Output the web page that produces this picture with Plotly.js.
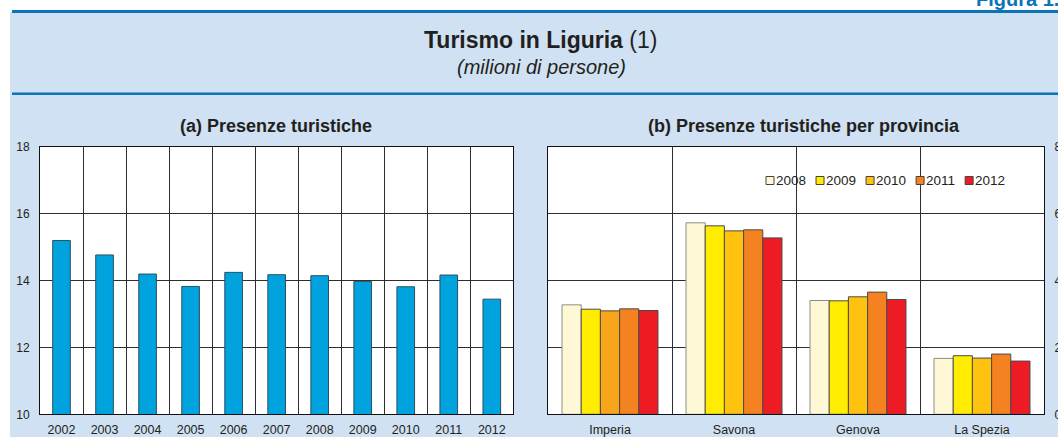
<!DOCTYPE html>
<html>
<head>
<meta charset="utf-8">
<script src="https://cdn.plot.ly/plotly-3.0.1.min.js"></script>
<style>html,body{margin:0;padding:0;background:#fff;}#chart{width:1058px;height:437px;}</style>
</head>
<body>
<div id="chart"></div>
<script>
// ---- data ----
const years = ['2002','2003','2004','2005','2006','2007','2008','2009','2010','2011','2012'];
const presenze = [15.19, 14.76, 14.19, 13.82, 14.24, 14.17, 14.14, 13.97, 13.81, 14.16, 13.44];

const province = ['Imperia','Savona','Genova','La Spezia'];
const seriesNames = ['2008','2009','2010','2011','2012'];
const v2008 = [3.27, 5.72, 3.40, 1.67];
const v2009 = [3.14, 5.63, 3.39, 1.75];
const v2010 = [3.09, 5.48, 3.51, 1.68];
const v2011 = [3.15, 5.51, 3.65, 1.80];
const v2012 = [3.10, 5.27, 3.43, 1.59];
const seriesValues = [v2008, v2009, v2010, v2011, v2012];

const leftTicks = [10, 12, 14, 16, 18];
const rightTicks = [0, 2, 4, 6, 8];

// ---- styles ----
const W = 1058, H = 437;
const FONT = 'Liberation Sans, Arial, sans-serif';
const TXT = '#231f20';
const PANEL = '#cfe1f2';
const BLUE = '#0a74b6';
const GRID = '#2e2e2e';
const seriesColors = ['#fff8d6', '#ffec00', '#ffc20e', '#f58220', '#ed1c24'];
const seriesPointColors = [null, null, ['#f9a51b','#ffc20e','#ffc20e','#ffc20e'], null, null];
const seriesLine = ['#8c8c84', '#4a4a4a', '#4a4a4a', '#4a4a4a', '#4a4a4a'];

const px = x => x / W;
const py = y => 1 - y / H;

const plotTop = 146.5, plotBottom = 414.3;

const traces = [{
  type: 'bar', x: years, y: presenze, xaxis: 'x', yaxis: 'y',
  width: 0.41, showlegend: false, hoverinfo: 'x+y',
  marker: {color: '#00a3dd', line: {color: '#2b4f63', width: 1}}
}];
seriesNames.forEach((n, i) => {
  traces.push({
    type: 'bar', name: n, x: province, y: seriesValues[i], xaxis: 'x2', yaxis: 'y2',
    showlegend: false,
    marker: {color: seriesPointColors[i] || seriesColors[i], line: {color: seriesLine[i], width: 1}}
  });
});

const axisCommon = {
  showline: true, linecolor: '#111', linewidth: 1, mirror: true,
  showgrid: true, gridcolor: GRID, gridwidth: 1, zeroline: false,
  ticks: '', fixedrange: true
};

const shapes = [
  {type: 'rect', xref: 'paper', yref: 'paper', x0: px(10), x1: px(1070), y0: py(94), y1: py(12), fillcolor: PANEL, line: {width: 0}, layer: 'below'},
  {type: 'rect', xref: 'paper', yref: 'paper', x0: px(10), x1: px(1070), y0: py(440), y1: py(94), fillcolor: PANEL, line: {width: 0}, layer: 'below'},
  {type: 'rect', xref: 'paper', yref: 'paper', x0: px(40), x1: px(513.3), y0: py(plotBottom), y1: py(plotTop), fillcolor: '#fff', line: {width: 0}, layer: 'below'},
  {type: 'rect', xref: 'paper', yref: 'paper', x0: px(548), x1: px(1044), y0: py(plotBottom), y1: py(plotTop), fillcolor: '#fff', line: {width: 0}, layer: 'below'},
  {type: 'line', xref: 'paper', yref: 'paper', x0: px(12), x1: px(1070), y0: py(11.5), y1: py(11.5), line: {color: BLUE, width: 3}},
  {type: 'line', xref: 'paper', yref: 'paper', x0: px(12), x1: px(1070), y0: py(93.8), y1: py(93.8), line: {color: BLUE, width: 2.5}}
];

const annotations = [
  {xref: 'paper', yref: 'paper', x: px(1061), y: py(12), xanchor: 'right', yanchor: 'bottom', showarrow: false,
   text: '<b>Figura 1.</b>', font: {family: FONT, size: 20, color: BLUE}},
  {xref: 'paper', yref: 'paper', x: px(540.5), y: py(40.5), xanchor: 'center', yanchor: 'middle', showarrow: false,
   text: '<b>Turismo in Liguria</b> (1)', font: {family: FONT, size: 23, color: TXT}},
  {xref: 'paper', yref: 'paper', x: px(541), y: py(66.5), xanchor: 'center', yanchor: 'middle', showarrow: false,
   text: '<i>(milioni di persone)</i>', font: {family: FONT, size: 20, color: TXT}},
  {xref: 'paper', yref: 'paper', x: px(276), y: py(126), xanchor: 'center', yanchor: 'middle', showarrow: false,
   text: '<b>(a) Presenze turistiche</b>', font: {family: FONT, size: 18, color: TXT}},
  {xref: 'paper', yref: 'paper', x: px(804), y: py(126), xanchor: 'center', yanchor: 'middle', showarrow: false,
   text: '<b>(b) Presenze turistiche per provincia</b>', font: {family: FONT, size: 18, color: TXT}}
];

// custom compact legend, built from the series names and colours
const LEG_FONT = 13.5;
const ctx = document.createElement('canvas').getContext('2d');
ctx.font = LEG_FONT + 'px "Liberation Sans", Arial, sans-serif';
let lx = 766;
const ly = 180.5;
seriesNames.forEach((n, i) => {
  shapes.push({type: 'rect', xref: 'paper', yref: 'paper', layer: 'above',
    x0: px(lx), x1: px(lx + 8), y0: py(ly + 4), y1: py(ly - 4),
    fillcolor: seriesColors[i], line: {color: '#444', width: 1}});
  annotations.push({xref: 'paper', yref: 'paper', x: px(lx + 8.5), y: py(ly), xanchor: 'left', yanchor: 'middle',
    showarrow: false, borderpad: 0, text: n, font: {family: FONT, size: LEG_FONT, color: TXT}});
  lx += 8.5 + ctx.measureText(n).width + 11.5;
});

const layout = {
  width: W, height: H,
  margin: {l: 0, r: 0, t: 0, b: 0, pad: 0},
  paper_bgcolor: '#ffffff', plot_bgcolor: '#ffffff',
  font: {family: FONT, color: TXT, size: 12},
  showlegend: false,
  barmode: 'group', bargap: 0.226, bargroupgap: 0,
  xaxis: Object.assign({}, axisCommon, {
    domain: [px(40), px(513.3)], anchor: 'y', type: 'category', tickson: 'boundaries',
    tickfont: {family: FONT, size: 12.5, color: TXT}, ticklabelstandoff: 4
  }),
  yaxis: Object.assign({}, axisCommon, {
    domain: [py(plotBottom), py(plotTop)], anchor: 'x', range: [10, 18],
    tickmode: 'array', tickvals: leftTicks, ticktext: leftTicks.map(String),
    tickfont: {family: FONT, size: 12, color: TXT}, ticklabelstandoff: 7
  }),
  xaxis2: Object.assign({}, axisCommon, {
    domain: [px(548), px(1044)], anchor: 'y2', type: 'category', tickson: 'boundaries',
    tickfont: {family: FONT, size: 12.5, color: TXT}, ticklabelstandoff: 4
  }),
  yaxis2: Object.assign({}, axisCommon, {
    domain: [py(plotBottom), py(plotTop)], anchor: 'x2', side: 'right', range: [0, 8],
    tickmode: 'array', tickvals: rightTicks, ticktext: rightTicks.map(String),
    tickfont: {family: FONT, size: 12, color: TXT}, ticklabelstandoff: 7
  }),
  shapes: shapes,
  annotations: annotations
};

Plotly.newPlot('chart', traces, layout, {displayModeBar: false, staticPlot: true});
</script>
</body>
</html>
